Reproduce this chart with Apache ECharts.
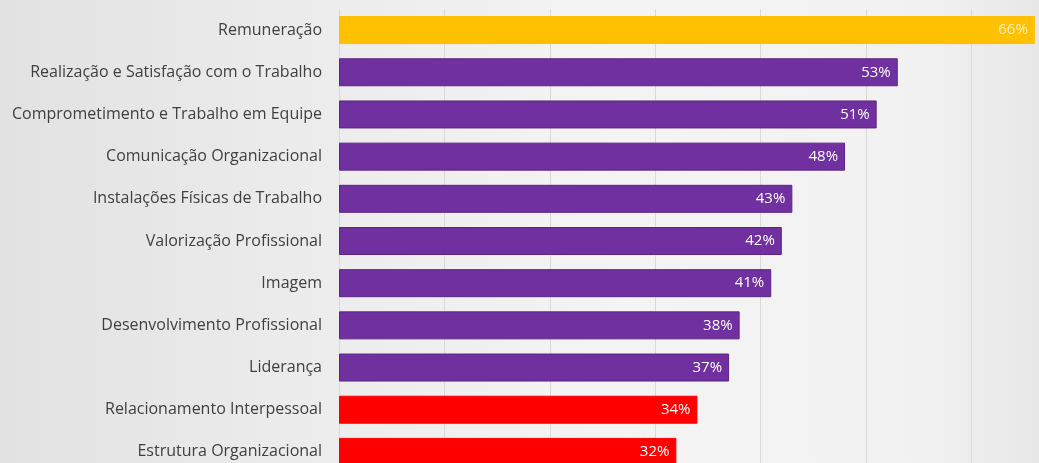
<!DOCTYPE html>
<html>
<head>
<meta charset="utf-8">
<script src="https://cdn.jsdelivr.net/npm/echarts@6/dist/echarts.min.js"></script>
<style>
    html, body { margin: 0; padding: 0; }
    #chart { width: 1039px; height: 463px; }
</style>
</head>
<body>
<div id="chart"></div>
<script>
// fatores de satisfação (%)
var categorias = [
    'Remuneração',
    'Realização e Satisfação com o Trabalho',
    'Comprometimento e Trabalho em Equipe',
    'Comunicação Organizacional',
    'Instalações Físicas de Trabalho',
    'Valorização Profissional',
    'Imagem',
    'Desenvolvimento Profissional',
    'Liderança',
    'Relacionamento Interpessoal',
    'Estrutura Organizacional'
];
var valores = [66, 53, 51, 48, 43, 42, 41, 38, 37, 34, 32];
var grupos = ['destaque', 'medio', 'medio', 'medio', 'medio', 'medio', 'medio', 'medio', 'medio', 'critico', 'critico'];

var cores = { destaque: '#FFC000', medio: '#7030A0', critico: '#FF0000' };
var bordas = { destaque: '#FFC000', medio: '#5b2487', critico: '#FF0000' };

var chart = echarts.init(document.getElementById('chart'));

var dados = [];
for (var i = 0; i < valores.length; i++) {
    dados.push({
        value: valores[i],
        itemStyle: { color: cores[grupos[i]], borderColor: bordas[grupos[i]], borderWidth: 1 },
        label: { color: grupos[i] == 'destaque' ? 'rgba(255,255,255,0.75)' : '#ffffff' }
    });
}

var option = {
    backgroundColor: {
        type: 'linear', x: 0, y: 0, x2: 1, y2: 0,
        colorStops: [
            { offset: 0, color: '#e2e2e2' },
            { offset: 0.3, color: '#ececec' },
            { offset: 0.6, color: '#f4f4f4' },
            { offset: 0.9, color: '#f1f1f1' },
            { offset: 1, color: '#e7e7e7' }
        ]
    },
    textStyle: { fontFamily: 'Open Sans' },
    grid: { left: 339, top: 9, right: -38, bottom: -10, outerBoundsMode: 'none' },
    xAxis: {
        type: 'value',
        min: 0,
        max: 70,
        interval: 10,
        axisLabel: { show: false },
        axisLine: { show: false },
        axisTick: { show: false },
        splitLine: { lineStyle: { color: '#d9d9d9', width: 1 } }
    },
    yAxis: {
        type: 'category',
        inverse: true,
        data: categorias,
        axisLine: { show: false },
        axisTick: { show: false },
        axisLabel: { margin: 17, color: '#404040', fontSize: 16, fontFamily: 'Open Sans' }
    },
    series: [{
        type: 'bar',
        barWidth: 28,
        data: dados,
        label: {
            show: true,
            position: 'insideRight',
            distance: 7,
            fontSize: 15,
            fontFamily: 'Open Sans',
            formatter: '{c}%'
        }
    }]
};
chart.setOption(option);
</script>
</body>
</html>
